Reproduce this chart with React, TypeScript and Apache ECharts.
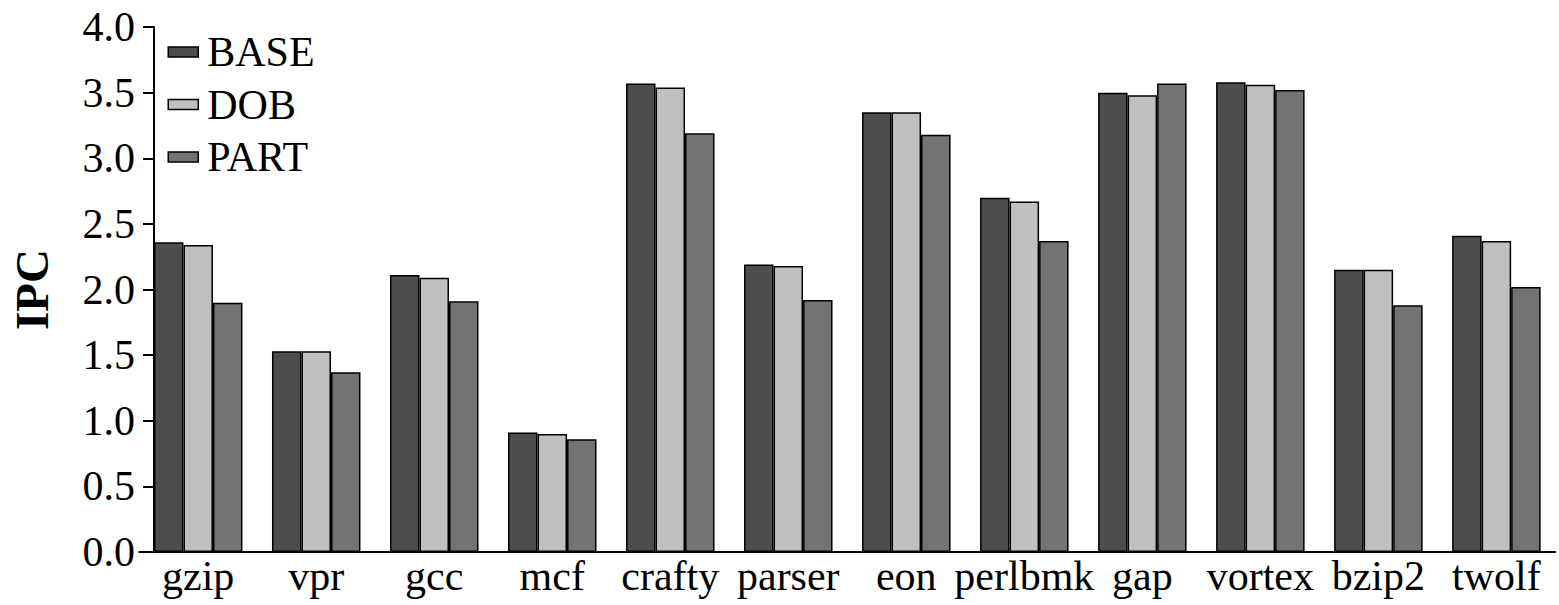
import React, { useEffect, useRef } from "react";
import * as echarts from "echarts";

const categories = ["gzip", "vpr", "gcc", "mcf", "crafty", "parser", "eon", "perlbmk", "gap", "vortex", "bzip2", "twolf"];
const baseValues = [2.36, 1.53, 2.11, 0.91, 3.57, 2.19, 3.35, 2.70, 3.50, 3.58, 2.15, 2.41];
const dobValues = [2.34, 1.53, 2.09, 0.90, 3.54, 2.18, 3.35, 2.67, 3.48, 3.56, 2.15, 2.37];
const partValues = [1.90, 1.37, 1.91, 0.86, 3.19, 1.92, 3.18, 2.37, 3.57, 3.52, 1.88, 2.02];
const seriesNames = ["BASE", "DOB", "PART"];
const yTicks = { min: 0, max: 4, interval: 0.5 };

const FONT = "Liberation Serif";

export default function App() {
  const ref = useRef<HTMLDivElement>(null);
  useEffect(() => {
    if (!ref.current) return;
    const chart = echarts.init(ref.current, null, { renderer: "svg" });
    const colors = ["#4d4d4d", "#c0c0c0", "#737373"];
    const data = [baseValues, dobValues, partValues];
    chart.setOption({
      animation: false,
      backgroundColor: "#ffffff",
      textStyle: { fontFamily: FONT, color: "#000", fontWeight: "normal" },
      grid: { left: 138.2, right: 3.6, top: 27, bottom: 53, containLabel: false },
      legend: {
        orient: "vertical",
        left: 167.5,
        top: 31,
        padding: 0,
        itemWidth: 30,
        itemHeight: 10,
        itemGap: 10.5,
        icon: "rect",
        data: seriesNames,
        itemStyle: { borderColor: "#000", borderWidth: 1.5 },
        textStyle: { fontFamily: FONT, fontSize: 42, fontWeight: "normal", color: "#000", lineHeight: 42, padding: [0, 0, 0, 4] },
      },
      xAxis: {
        type: "category",
        data: categories,
        axisLine: { lineStyle: { color: "#000", width: 2 } },
        axisTick: { show: false },
        axisLabel: { fontFamily: FONT, fontSize: 42, fontWeight: "normal", color: "#000", margin: 3, interval: 0 },
        splitLine: { show: false },
      },
      yAxis: {
        type: "value",
        min: yTicks.min,
        max: yTicks.max,
        interval: yTicks.interval,
        offset: -14.8,
        name: "IPC",
        nameLocation: "middle",
        nameGap: 99,
        nameRotate: 90,
        nameTextStyle: { fontFamily: FONT, fontSize: 47, fontWeight: "bold", color: "#000" },
        axisLine: { show: true, lineStyle: { color: "#000", width: 2 } },
        axisTick: { show: true, length: 11, lineStyle: { color: "#000", width: 2 } },
        axisLabel: {
          fontFamily: FONT,
          fontSize: 42,
          fontWeight: "normal",
          color: "#000",
          margin: 19,
          formatter: (v: number) => v.toFixed(1),
        },
        splitLine: { show: false },
      },
      series: seriesNames.map((name, i) => ({
        name,
        type: "bar",
        data: data[i],
        barWidth: 29.5,
        barGap: "0%",
        itemStyle: { color: colors[i], borderColor: "#000", borderWidth: 1.5 },
      })),
    });
    return () => chart.dispose();
  }, []);
  return (
    <div
      ref={ref}
      style={{ position: "fixed", left: 0, top: 0, width: 1559, height: 605, background: "#fff" }}
    />
  );
}
